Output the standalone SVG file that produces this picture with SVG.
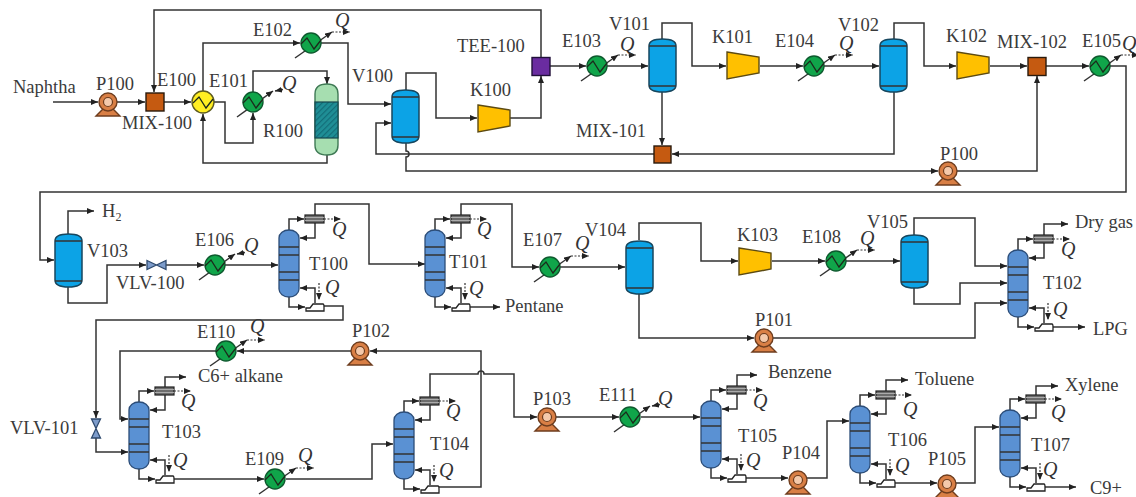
<svg xmlns="http://www.w3.org/2000/svg" width="1136" height="497" viewBox="0 0 1136 497">
<style>
.c{fill:none;stroke:#333;stroke-width:1.5}
.a{marker-end:url(#arrow)}
.d{fill:none;stroke:#333;stroke-width:1.2;stroke-dasharray:2 1.5;marker-end:url(#arrow)}
text{font-family:"Liberation Serif","Times New Roman",serif;font-size:18.5px;fill:#3a3a3a}
.q{font-style:italic;font-size:20px;fill:#333}
.v{fill:#0ca3e6;stroke:#17475f;stroke-width:1.5}
.t{fill:#5a91d3;stroke:#2c4d78;stroke-width:1.3}
.k{fill:#ffc000;stroke:#5c4a12;stroke-width:1.4}
.m{fill:#c55a11;stroke:#2a1a0c;stroke-width:1.4}
.p{fill:#d97f45;stroke:#6e3d1e;stroke-width:1.4}
.g{fill:#10a54a;stroke:#0d5a2e;stroke-width:1.4}
.y{fill:#ffee22;stroke:#5c5a20;stroke-width:1.4}
</style>
<defs>
<marker id="arrow" markerUnits="userSpaceOnUse" markerWidth="7" markerHeight="6" refX="7" refY="3" orient="auto"><path d="M0,0L7,3L0,6z" fill="#222"/></marker>
<pattern id="hatch" width="4" height="4" patternUnits="userSpaceOnUse" patternTransform="rotate(-45)"><rect width="4" height="4" fill="#1f8f96"/><rect width="4" height="1.2" fill="#136d78"/></pattern>
<path id="zig" d="M-10,1L-4,-5L3,6L10,-3" fill="none" stroke="#1c2a1c" stroke-width="1.3"/>
<g id="hxout"><path class="c" d="M-16,15L21,-11" stroke-width="1.2" marker-end="url(#arrow)"/><path class="d" d="M21,-11H39"/><circle r="10" class="g"/><use href="#zig"/></g>
<g id="hxin"><path class="c" d="M-16,15L20,-11" stroke-width="1.2" marker-end="url(#arrow)"/><path class="c" d="M30,-12.500L22,-11" marker-end="url(#arrow)"/><circle r="10" class="g"/><use href="#zig"/></g>
<g id="pump"><path class="p" d="M-12,14L-5,7H5L12,14z"/><circle r="9" class="p"/><circle r="4.500" fill="#f4c9ab" stroke="#6e3d1e" stroke-width="1.2"/></g>
<g id="comp"><path class="k" d="M0,0L32,5V21L0,27z"/></g>
<g id="vessel"><path class="v" d="M0,7Q0,0 13.500,0Q27,0 27,7V46Q27,53 13.500,53Q0,53 0,46z"/><path class="c" stroke="#17475f" d="M0,7H27M0,47H27"/></g>
<g id="tower"><rect class="t" width="20" height="67" rx="10" ry="8"/><path class="c" stroke="#1d3557" d="M0,17H20M0,25H20M0,42H20M0,50H20"/></g>
<g id="cond"><rect x="-10" y="-4" width="19" height="8" fill="#6c6c6c" stroke="#222" stroke-width="1.2"/><path d="M-10,-1.500H9M-10,1.500H9" stroke="#bbb" stroke-width=".8"/></g>
<g id="reb"><path d="M-9,4V1H-5L-2,-3H8Q9,-3 9,0V4z" fill="#fff" stroke="#222" stroke-width="1.3"/></g>
</defs>
<g id="connectors">
<path class="c a" d="M53,102H98"/>
<path class="c a" d="M117,102H145"/>
<path class="c a" d="M164,102H191"/>
<path class="c a" d="M541,57V10H154V92"/>
<path class="c a" d="M203,91V43H300"/>
<path class="c a" d="M321,43H348V104H391"/>
<path class="c a" d="M214,102H225V143H253V113"/>
<path class="c a" d="M253,92V71H327V84"/>
<path class="c a" d="M327,155V163H203V114"/>
<path class="c a" d="M406,90V73H436V118H477"/>
<path class="c a" d="M510,118H541V76"/>
<path class="c a" d="M550,66H586"/>
<path class="c a" d="M607,66H648"/>
<path class="c a" d="M662,39V23H692V66H726"/>
<path class="c a" d="M760,66H803"/>
<path class="c a" d="M824,66H879"/>
<path class="c a" d="M894,39V23H924V66H956"/>
<path class="c a" d="M990,66H1027"/>
<path class="c a" d="M1046,66H1089"/>
<path class="c a" d="M1110,66H1126V192H40V260H54"/>
<path class="c a" d="M662,92V145"/>
<path class="c a" d="M894,92V154H672"/>
<path class="c a" d="M654,154H376V123H391"/>
<path class="c a" d="M406,143V151a3,3 0 0 1 0,6V171H938"/>
<path class="c a" d="M957,171H1037V76"/>
<path class="c a" d="M68,234V211H94"/>
<path class="c a" d="M68,287V303H107V265H146"/>
<path class="c a" d="M166,265H204"/>
<path class="c a" d="M225,265H278"/>
<path class="c a" d="M315,215V204H369V264H425"/>
<path class="c a" d="M324,306H343V320H96V418"/>
<path class="c a" d="M96,438V452H128"/>
<path class="c a" d="M461,215V204H512V267H539"/>
<path class="c a" d="M560,267H625"/>
<path class="c a" d="M639,240V223H701V261H738"/>
<path class="c a" d="M772,261H825"/>
<path class="c a" d="M846,261H900"/>
<path class="c a" d="M914,235V218H975V266H1007"/>
<path class="c a" d="M914,288V304H960V283H1007"/>
<path class="c a" d="M639,294V338H754"/>
<path class="c a" d="M773,338H975V303H1007"/>
<path class="c a" d="M1044,235V224H1068"/>
<path class="c a" d="M1053,327H1085"/>
<path class="c a" d="M470,307H500"/>
<path class="c a" d="M165,387V377H186"/>
<path class="c a" d="M216,351H120V419H128"/>
<path class="c a" d="M174,479H264"/>
<path class="c a" d="M286,479H372V444H393"/>
<path class="c a" d="M439,487H481V351H370"/>
<path class="c a" d="M430,397V374H478a3,3 0 0 1 6,0H514V417H537"/>
<path class="c a" d="M351,351H237"/>
<path class="c a" d="M556,417H619"/>
<path class="c a" d="M641,417H700"/>
<path class="c a" d="M737,386V375H757"/>
<path class="c a" d="M746,478H788"/>
<path class="c a" d="M807,478H827V421H849"/>
<path class="c a" d="M886,391V380H908"/>
<path class="c a" d="M895,483H937"/>
<path class="c a" d="M956,483H975V427H999"/>
<path class="c a" d="M1036,395V386H1058"/>
<path class="c a" d="M1045,487H1076"/>
<path class="c a" d="M289,230V219H304"/><path class="c a" d="M315,223V238H300"/><path class="c a" d="M289,297V307H305"/><path class="c a" d="M315,303V288H300"/><path class="d" d="M324,219H341"/><path class="d" d="M319,283V300"/>
<path class="c a" d="M435,230V219H450"/><path class="c a" d="M461,223V238H446"/><path class="c a" d="M435,297V307H451"/><path class="c a" d="M461,303V288H446"/><path class="d" d="M470,219H487"/><path class="d" d="M465,283V300"/>
<path class="c a" d="M1018,250V239H1033"/><path class="c a" d="M1044,243V258H1029"/><path class="c a" d="M1018,317V327H1034"/><path class="c a" d="M1044,323V308H1029"/><path class="d" d="M1053,239H1070"/><path class="d" d="M1048,303V320"/>
<path class="c a" d="M139,402V391H154"/><path class="c a" d="M165,395V410H150"/><path class="c a" d="M139,469V479H155"/><path class="c a" d="M165,475V460H150"/><path class="d" d="M174,391H191"/><path class="d" d="M169,455V472"/>
<path class="c a" d="M404,412V401H419"/><path class="c a" d="M430,405V420H415"/><path class="c a" d="M404,479V489H420"/><path class="c a" d="M430,485V470H415"/><path class="d" d="M439,401H456"/><path class="d" d="M434,465V482"/>
<path class="c a" d="M711,401V390H726"/><path class="c a" d="M737,394V409H722"/><path class="c a" d="M711,468V478H727"/><path class="c a" d="M737,474V459H722"/><path class="d" d="M746,390H763"/><path class="d" d="M741,454V471"/>
<path class="c a" d="M860,406V395H875"/><path class="c a" d="M886,399V414H871"/><path class="c a" d="M860,473V483H876"/><path class="c a" d="M886,479V464H871"/><path class="d" d="M895,395H912"/><path class="d" d="M890,459V476"/>
<path class="c a" d="M1010,410V399H1025"/><path class="c a" d="M1036,403V418H1021"/><path class="c a" d="M1010,477V487H1026"/><path class="c a" d="M1036,483V468H1021"/><path class="d" d="M1045,399H1062"/><path class="d" d="M1040,463V480"/>
</g>
<g id="Naphtha"><text x="13" y="93">Naphtha</text></g>
<g id="P100a"><use href="#pump" x="108" y="102"/><text x="96" y="90">P100</text></g>
<g id="MIX-100"><rect class="m" x="146" y="93" width="18" height="18"/><text x="122" y="129">MIX-100</text></g>
<g id="E100"><circle cx="203" cy="102" r="11" class="y"/><use href="#zig" x="203" y="102"/><text x="157" y="86">E100</text></g>
<g id="E101"><use href="#hxin" x="253" y="102"/><text x="209" y="87">E101</text><text class="q" x="282" y="90">Q</text></g>
<g id="E102"><use href="#hxout" x="311" y="43"/><text x="253" y="36">E102</text><text class="q" x="335" y="27">Q</text></g>
<g id="R100"><path d="M315,94Q315,84 327,84Q338,84 338,94V145Q338,155 327,155Q315,155 315,145z" fill="#a6deb0" stroke="#3f7a55" stroke-width="1.4"/><rect x="315" y="102" width="23" height="36" fill="url(#hatch)" stroke="#17474f" stroke-width="1.2"/><text x="263" y="137">R100</text></g>
<g id="V100"><use href="#vessel" x="392" y="90"/><text x="352" y="82">V100</text></g>
<g id="K100"><use href="#comp" x="478" y="105"/><text x="470" y="96">K100</text></g>
<g id="TEE-100"><rect x="532" y="57.500" width="18" height="18" fill="#6a2ca0" stroke="#21103a" stroke-width="1.4"/><text x="457" y="52">TEE-100</text></g>
<g id="E103"><use href="#hxout" x="597" y="66"/><text x="562" y="47">E103</text><text class="q" x="620" y="51">Q</text></g>
<g id="V101"><use href="#vessel" x="649" y="39"/><text x="609" y="30">V101</text></g>
<g id="K101"><use href="#comp" x="727" y="52"/><text x="712" y="43">K101</text></g>
<g id="E104"><use href="#hxout" x="814" y="66"/><text x="775" y="47">E104</text><text class="q" x="839" y="50">Q</text></g>
<g id="V102"><use href="#vessel" x="880" y="39"/><text x="838" y="31">V102</text></g>
<g id="K102"><use href="#comp" x="957" y="52"/><text x="946" y="42">K102</text></g>
<g id="MIX-102"><rect class="m" x="1028" y="57.500" width="18" height="18"/><text x="997" y="48">MIX-102</text></g>
<g id="E105"><use href="#hxout" x="1100" y="66"/><text x="1082" y="47">E105</text><text class="q" x="1122" y="50">Q</text></g>
<g id="MIX-101"><rect class="m" x="654" y="146" width="17" height="17"/><text x="576" y="137">MIX-101</text></g>
<g id="P100b"><use href="#pump" x="948" y="171"/><text x="940" y="160">P100</text></g>
<g id="H2"><text x="102" y="217">H<tspan font-size="12" dy="4">2</tspan></text></g>
<g id="V103"><use href="#vessel" x="55" y="234"/><text x="87" y="257">V103</text></g>
<g id="VLV-100"><path d="M147,260.500L166,269.500V260.500L147,269.500z" fill="#7d9ccb" stroke="#2f4a6e" stroke-width="1.3"/><text x="116" y="289">VLV-100</text></g>
<g id="E106"><use href="#hxin" x="215" y="265"/><text x="195" y="246">E106</text><text class="q" x="244" y="252">Q</text></g>
<g id="T100"><use href="#tower" x="279" y="230"/><use href="#cond" x="315" y="219"/><use href="#reb" x="315" y="307"/><text x="309" y="270">T100</text><text class="q" x="332" y="236">Q</text><text class="q" x="325" y="294">Q</text></g>
<g id="T101"><use href="#tower" x="425" y="230"/><use href="#cond" x="461" y="219"/><use href="#reb" x="461" y="307"/><text x="449" y="268">T101</text><text class="q" x="477" y="236">Q</text><text class="q" x="469" y="295">Q</text></g>
<g id="Pentane"><text x="505" y="312">Pentane</text></g>
<g id="E107"><use href="#hxout" x="550" y="267"/><text x="523" y="246">E107</text><text class="q" x="575" y="250">Q</text></g>
<g id="V104"><use href="#vessel" x="626" y="241"/><text x="585" y="236">V104</text></g>
<g id="K103"><use href="#comp" x="739" y="248"/><text x="737" y="241">K103</text></g>
<g id="P101"><use href="#pump" x="764" y="338"/><text x="755" y="326">P101</text></g>
<g id="E108"><use href="#hxout" x="836" y="261"/><text x="802" y="243">E108</text><text class="q" x="860" y="245">Q</text></g>
<g id="V105"><use href="#vessel" x="901" y="235"/><text x="867" y="228">V105</text></g>
<g id="T102"><use href="#tower" x="1008" y="250"/><use href="#cond" x="1044" y="239"/><use href="#reb" x="1044" y="327"/><text x="1043" y="289">T102</text><text class="q" x="1061" y="256">Q</text><text class="q" x="1053" y="316">Q</text></g>
<g id="Dry-gas"><text x="1075" y="228">Dry gas</text></g>
<g id="LPG"><text x="1093" y="335">LPG</text></g>
<g id="P102"><use href="#pump" x="360" y="351"/><text x="352" y="337">P102</text></g>
<g id="E110"><use href="#hxout" x="226" y="351"/><text x="197" y="338">E110</text><text class="q" x="250" y="333">Q</text></g>
<g id="C6-alkane"><text x="198" y="382">C6+ alkane</text></g>
<g id="VLV-101"><path d="M91.500,419L100.500,438H91.500L100.500,419z" fill="#7d9ccb" stroke="#2f4a6e" stroke-width="1.3"/><text x="10" y="434">VLV-101</text></g>
<g id="T103"><use href="#tower" x="129" y="402"/><use href="#cond" x="165" y="391"/><use href="#reb" x="165" y="479"/><text x="162" y="438">T103</text><text class="q" x="181" y="408">Q</text><text class="q" x="173" y="467">Q</text></g>
<g id="E109"><use href="#hxout" x="275" y="479"/><text x="245" y="465">E109</text><text class="q" x="298" y="462">Q</text></g>
<g id="T104"><use href="#tower" x="394" y="412"/><use href="#cond" x="430" y="401"/><use href="#reb" x="430" y="489"/><text x="430" y="450">T104</text><text class="q" x="446" y="418">Q</text><text class="q" x="439" y="477">Q</text></g>
<g id="P103"><use href="#pump" x="547" y="417"/><text x="533" y="405">P103</text></g>
<g id="E111"><use href="#hxin" x="630" y="417"/><text x="599" y="401">E111</text><text class="q" x="658" y="405">Q</text></g>
<g id="T105"><use href="#tower" x="701" y="401"/><use href="#cond" x="737" y="390"/><use href="#reb" x="737" y="478"/><text x="738" y="442">T105</text><text class="q" x="753" y="408">Q</text><text class="q" x="746" y="467">Q</text></g>
<g id="Benzene"><text x="768" y="378">Benzene</text></g>
<g id="P104"><use href="#pump" x="798" y="480"/><text x="782" y="459">P104</text></g>
<g id="T106"><use href="#tower" x="850" y="406"/><use href="#cond" x="886" y="395"/><use href="#reb" x="886" y="483"/><text x="888" y="446">T106</text><text class="q" x="903" y="416">Q</text><text class="q" x="895" y="472">Q</text></g>
<g id="Toluene"><text x="915" y="385">Toluene</text></g>
<g id="P105"><use href="#pump" x="947" y="484"/><text x="928" y="465">P105</text></g>
<g id="T107"><use href="#tower" x="1000" y="410"/><use href="#cond" x="1036" y="399"/><use href="#reb" x="1036" y="487"/><text x="1031" y="451">T107</text><text class="q" x="1051" y="419">Q</text><text class="q" x="1043" y="476">Q</text></g>
<g id="Xylene"><text x="1065" y="391">Xylene</text></g>
<g id="C9"><text x="1090" y="494">C9+</text></g>
</svg>
